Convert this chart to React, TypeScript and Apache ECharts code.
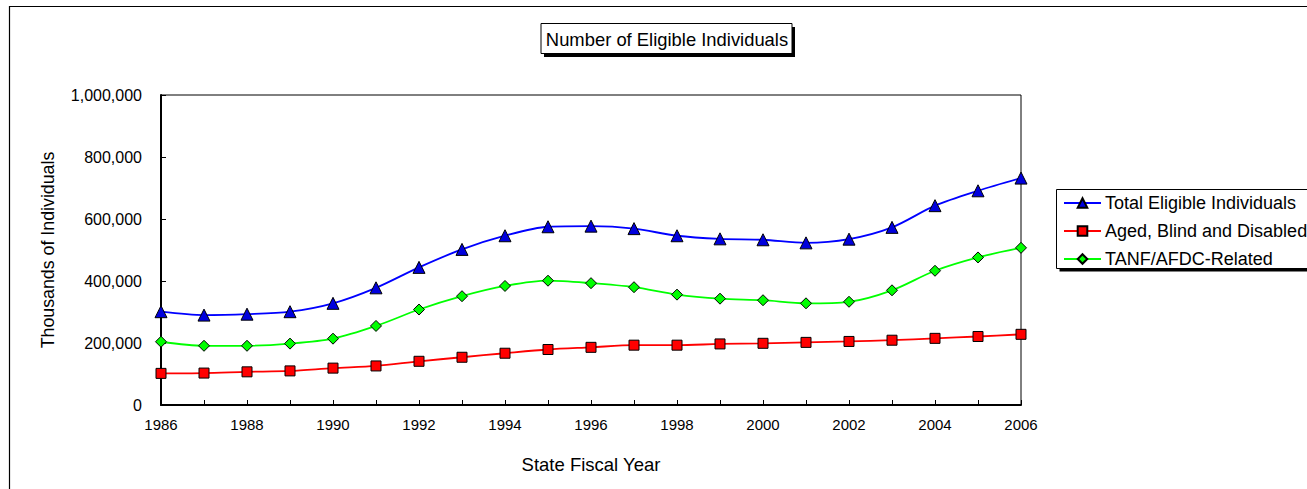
import React, { useEffect, useRef } from "react";
import * as echarts from "echarts";

const years = ["1986","1987","1988","1989","1990","1991","1992","1993","1994","1995","1996","1997","1998","1999","2000","2001","2002","2003","2004","2005","2006"];
const totalEligible = [301000, 290000, 293000, 301000, 328000, 378000, 444000, 502000, 546000, 575000, 577000, 569000, 546000, 536000, 533000, 523000, 535000, 573000, 643000, 691000, 732000];
const agedBlindDisabled = [102000, 103000, 107000, 110000, 119000, 126000, 141000, 154000, 167000, 179000, 186000, 193000, 193000, 197000, 199000, 202000, 205000, 209000, 215000, 221000, 228000];
const tanfAfdc = [204000, 191000, 191000, 198000, 214000, 255000, 308000, 351000, 384000, 401000, 393000, 380000, 356000, 343000, 338000, 328000, 333000, 370000, 433000, 476000, 507000];
const seriesNames = ["Total Eligible Individuals", "Aged, Blind and Disabled", "TANF/AFDC-Related"];
const chartTitle = "Number of Eligible Individuals";
const xTitle = "State Fiscal Year";
const yTitle = "Thousands of Individuals";

const FONT = 'Arial, "Liberation Sans", sans-serif';

export default function App() {
  const ref = useRef<HTMLDivElement>(null);
  useEffect(() => {
    if (!ref.current) return;
    const chart = echarts.init(ref.current, null, { renderer: "svg" });
    chart.setOption({
      animation: false,
      backgroundColor: "#fff",
      textStyle: { fontFamily: FONT, color: "#000" },
      graphic: [
        { type: "rect", z: 0, shape: { x: 9.5, y: 6.5, width: 1400, height: 600 }, style: { fill: "#fff", stroke: "#000", lineWidth: 1.2 } },
        { type: "rect", z: 1, shape: { x: 544, y: 27, width: 251, height: 30 }, style: { fill: "#000" } },
        { type: "rect", z: 2, shape: { x: 541, y: 23.5, width: 251, height: 30 }, style: { fill: "#fff", stroke: "#000", lineWidth: 1 } },
        { type: "text", z: 3, x: 667, y: 39, style: { text: chartTitle, font: `18.4px ${FONT}`, fill: "#000", align: "center", verticalAlign: "middle" } },
        { type: "rect", z: 1, shape: { x: 1059.5, y: 192.5, width: 300, height: 79 }, style: { fill: "#000" } },
        { type: "rect", z: 2, shape: { x: 1056.5, y: 189.5, width: 300, height: 79 }, style: { fill: "#fff", stroke: "#000", lineWidth: 1 } },
      ],
      legend: {
        orient: "vertical",
        left: 1063,
        top: 194,
        itemWidth: 37,
        itemHeight: 12,
        itemGap: 10,
        padding: 0,
        data: seriesNames,
        textStyle: { fontFamily: FONT, fontSize: 18, color: "#000", lineHeight: 18, padding: [0, 0, 0, -1] },
        z: 10,
      },
      grid: {
        left: 161,
        top: 95,
        right: 286,
        bottom: 84,
        show: true,
        borderColor: "#000",
        borderWidth: 1,
        backgroundColor: "transparent",
        z: 5,
      },
      xAxis: {
        type: "category",
        data: years,
        boundaryGap: false,
        name: xTitle,
        nameLocation: "middle",
        nameGap: 50,
        nameTextStyle: { fontFamily: FONT, fontSize: 18.5, color: "#000" },
        axisLine: { lineStyle: { color: "#000", width: 2 } },
        axisTick: { inside: true, length: 5, interval: 0, lineStyle: { color: "#000", width: 1 } },
        axisLabel: { interval: 1, fontFamily: FONT, fontSize: 15, color: "#000", margin: 12 },
        splitLine: { show: false },
      },
      yAxis: {
        type: "value",
        min: 0,
        max: 1000000,
        interval: 200000,
        name: yTitle,
        nameLocation: "middle",
        nameGap: 104,
        nameTextStyle: { fontFamily: FONT, fontSize: 17.8, color: "#000" },
        axisLine: { show: true, lineStyle: { color: "#000", width: 2 } },
        axisTick: { show: true, inside: true, length: 5, lineStyle: { color: "#000", width: 1 } },
        axisLabel: {
          fontFamily: FONT,
          fontSize: 16,
          color: "#000",
          margin: 19,
          formatter: (v: number) => v.toLocaleString("en-US"),
        },
        splitLine: { show: false },
      },
      series: [
        {
          name: seriesNames[0],
          type: "line",
          data: totalEligible,
          smooth: 0.3,
          symbol: "triangle",
          symbolSize: 12,
          lineStyle: { color: "#0000ff", width: 1.8 },
          itemStyle: { color: "#0000dd", borderColor: "#000", borderWidth: 1 },
          z: 6,
        },
        {
          name: seriesNames[1],
          type: "line",
          data: agedBlindDisabled,
          smooth: 0.3,
          symbol: "rect",
          symbolSize: 10,
          lineStyle: { color: "#ff0000", width: 1.8 },
          itemStyle: { color: "#ff0000", borderColor: "#000", borderWidth: 1 },
          z: 6,
        },
        {
          name: seriesNames[2],
          type: "line",
          data: tanfAfdc,
          smooth: 0.3,
          symbol: "diamond",
          symbolSize: 11,
          lineStyle: { color: "#00ff00", width: 1.8 },
          itemStyle: { color: "#00ff00", borderColor: "#000", borderWidth: 1 },
          z: 6,
        },
      ],
    });
    return () => chart.dispose();
  }, []);
  return <div ref={ref} style={{ position: "absolute", left: 0, top: 0, width: 1307, height: 489 }} />;
}
